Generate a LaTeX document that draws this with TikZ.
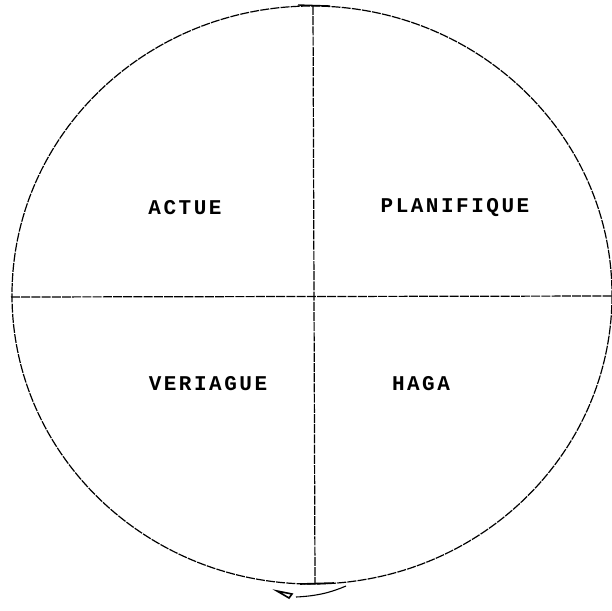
\documentclass[tikz,border=0pt]{standalone}
\usepackage{fontspec}
\newfontfamily\typew[LetterSpace=12]{Liberation Mono}
\begin{document}
\begin{tikzpicture}[x=1pt,y=-1pt,
  ink/.style={line width=1.2pt,black,dash pattern=on 9pt off 1.2pt},
  lbl/.style={font=\typew\bfseries\fontsize{21}{21}\selectfont,inner sep=0pt}]
\useasboundingbox (0,0) rectangle (612,610);
\coordinate (c) at (312,295);
\draw[ink] (c) ellipse [x radius=300, y radius=289];
\coordinate (top) at (313,6);
\coordinate (bot) at (315,584);
\coordinate (lft) at (11,297);
\coordinate (rgt) at (612,296);
\draw[ink] (top) -- (bot);
\draw[ink] (lft) -- (rgt);
\draw[line width=1.4pt] (298,5) -- (330,6);
\draw[line width=1.6pt] (300,584) -- (334,583);
\node[lbl] (a) at (185,208) {ACTUE};
\node[lbl] (b) at (455,208) {PLANIFIQUE};
\node[lbl] (v) at (208,384) {VERIAGUE};
\node[lbl] (h) at (421,384) {HAGA};
\coordinate (m1) at (296,597);
\coordinate (m2) at (346,586);
\draw[line width=1.1pt] (m1) .. controls (318,596) and (332,592) .. (m2);
\draw[line width=1.6pt] (277,591) -- (292,594) -- (289,598) -- cycle;
\end{tikzpicture}
\end{document}
